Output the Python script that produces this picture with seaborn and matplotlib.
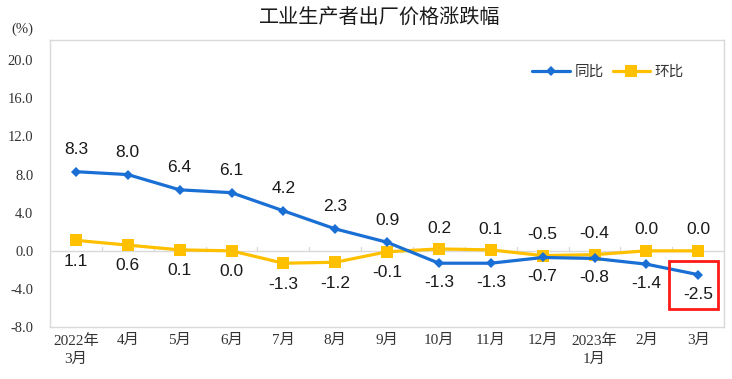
import matplotlib
matplotlib.use("Agg")
import matplotlib.pyplot as plt
import seaborn as sns
import pandas as pd
from matplotlib.patches import Rectangle

categories = ["2022年\n3月", "4月", "5月", "6月", "7月", "8月", "9月", "10月", "11月", "12月", "2023年\n1月", "2月", "3月"]
yoy = [8.3, 8.0, 6.4, 6.1, 4.2, 2.3, 0.9, -1.3, -1.3, -0.7, -0.8, -1.4, -2.5]
mom = [1.1, 0.6, 0.1, 0.0, -1.3, -1.2, -0.1, 0.2, 0.1, -0.5, -0.4, 0.0, 0.0]
yoy_label_above = [True] * 7 + [False] * 6
yticks = [-8.0, -4.0, 0.0, 4.0, 8.0, 12.0, 16.0, 20.0]

sns.set_theme(style="white")
plt.rcParams['font.family'] = ['Liberation Sans', 'Noto Sans CJK SC', 'DejaVu Sans']
plt.rcParams['axes.unicode_minus'] = False

blue = "#1a6fd4"
yellow = "#ffc000"

fig = plt.figure(figsize=(7.32, 3.79), dpi=100)
ax = fig.add_axes([0.0683, 0.137, 0.921, 0.757])

x = list(range(len(categories)))
df = pd.DataFrame({"x": x, "同比": yoy, "环比": mom})

sns.lineplot(data=df, x="x", y="同比", ax=ax, color=blue, lw=2.3, marker="D",
             markersize=5, markeredgewidth=0, label="同比", zorder=4)
sns.lineplot(data=df, x="x", y="环比", ax=ax, color=yellow, lw=2.3, marker="s",
             markersize=9, markeredgewidth=0, label="环比", zorder=3)

ax.set_xlim(-0.5, len(categories) - 0.5)
ax.set_ylim(-8, 22.1)
ax.set_yticks(yticks)
ax.set_yticklabels([f"{v:.1f}" for v in yticks], family=['Liberation Serif', 'Noto Sans CJK SC'], fontsize=10.5, color="#333333")
ax.set_xticks(x)
ax.set_xticklabels(categories, family=['Liberation Serif', 'Noto Sans CJK SC'], fontsize=11, color="#333333", linespacing=1.5)
ax.tick_params(axis="y", direction="in", length=3, color="#bfbfbf", pad=12)
ax.tick_params(axis="x", length=0, pad=5)
ax.set_xlabel("")
ax.set_ylabel("")

for s in ax.spines.values():
    s.set_color("#d9d9d9")
    s.set_linewidth(1.0)

# zero axis with category separators
ax.axhline(0, color="#d9d9d9", lw=1.0, zorder=1)
for i in range(len(categories) - 1):
    ax.plot([i + 0.5, i + 0.5], [0, 0.45], color="#d9d9d9", lw=1.0, zorder=1)

lbl_kw = dict(ha="center", va="center", fontsize=12.5, color="#1a1a1a", family=['Liberation Sans', 'DejaVu Sans'])
for i, (a, b, up) in enumerate(zip(yoy, mom, yoy_label_above)):
    if up:
        ax.annotate(f"{a:.1f}", (i, a), xytext=(0, 16), textcoords="offset points", **lbl_kw)
        ax.annotate(f"{b:.1f}", (i, b), xytext=(0, -15), textcoords="offset points", **lbl_kw)
    else:
        ax.annotate(f"{a:.1f}", (i, a), xytext=(0, -14), textcoords="offset points", **lbl_kw)
        ax.annotate(f"{b:.1f}", (i, b), xytext=(0, 15), textcoords="offset points", **lbl_kw)

# red highlight box around last year-on-year value
last = len(categories) - 1
ax.add_patch(Rectangle((last - 0.56, yoy[last] - 3.6), 0.945, 5.0, fill=False,
                       edgecolor="#ff1a1a", lw=2.0, zorder=6, clip_on=False))

leg = ax.legend(loc="upper right", bbox_to_anchor=(0.96, 0.96), ncol=2, frameon=False,
                handlelength=2.6, columnspacing=0.6, handletextpad=0.3,
                prop={'family': ['Noto Sans CJK SC'], 'size': 10.5})
for t in leg.get_texts():
    t.set_color("#333333")

fig.text(0.519, 0.952, "工业生产者出厂价格涨跌幅", ha="center", va="center", fontsize=14.5,
         family=['Noto Sans CJK SC'], color="#1a1a1a")
fig.text(0.03, 0.922, "(%)", ha="center", va="center", fontsize=10.5,
         family=['Liberation Serif'], color="#333333")

fig.savefig("out.png", dpi=100)
